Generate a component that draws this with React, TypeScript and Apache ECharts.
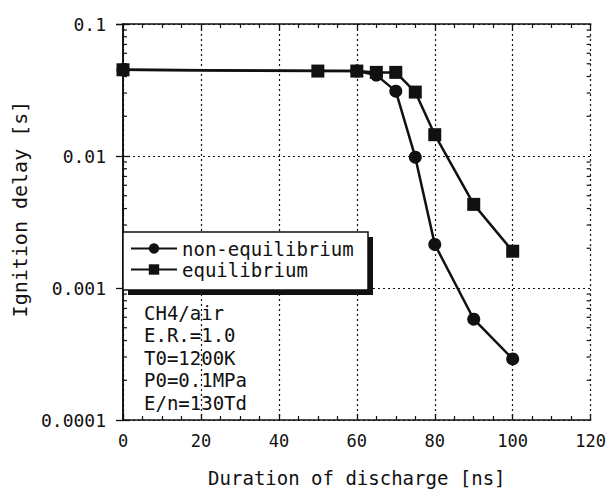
import React, { useEffect, useRef } from "react";
import * as echarts from "echarts";

const xEquilibrium = [0, 50, 60, 65, 70, 75, 80, 90, 100];
const equilibrium = [0.045, 0.044, 0.044, 0.043, 0.043, 0.0305, 0.0145, 0.0043, 0.0019];
const xNonEquilibrium = [0, 60, 65, 70, 75, 80, 90, 100];
const nonEquilibrium = [0.045, 0.044, 0.041, 0.031, 0.0098, 0.00214, 0.00058, 0.00029];
const yTickLabels = ["0.0001", "0.001", "0.01", "0.1"];
const yMinorTicks = [
  2e-4, 3e-4, 4e-4, 5e-4, 6e-4, 7e-4, 8e-4, 9e-4,
  2e-3, 3e-3, 4e-3, 5e-3, 6e-3, 7e-3, 8e-3, 9e-3,
  2e-2, 3e-2, 4e-2, 5e-2, 6e-2, 7e-2, 8e-2, 9e-2,
];
const conditions = ["CH4/air", "E.R.=1.0", "T0=1200K", "P0=0.1MPa", "E/n=130Td"];

const FONT = "DejaVu Sans Mono";
const INK = "#111";

export default function App() {
  const ref = useRef<HTMLDivElement>(null);
  useEffect(() => {
    if (!ref.current) return;
    const chart = echarts.init(ref.current, undefined, { renderer: "svg" });
    const gridLine = { show: true, lineStyle: { color: INK, type: [2, 3], width: 1.2 } };
    const axisLine = { show: true, lineStyle: { color: INK, width: 1.6 } };
    const option: any = {
      animation: false,
      backgroundColor: "#fff",
      grid: { left: 123, right: 17, top: 24, bottom: 69 },
      xAxis: [
        {
          type: "value", min: 0, max: 120, interval: 20,
          axisLine,
          axisTick: { inside: true, length: 6, lineStyle: { color: INK, width: 1.3 } },
          minorTick: { show: true, splitNumber: 4, length: 4, lineStyle: { color: INK, width: 1.2 } },
          splitLine: gridLine,
          axisLabel: { color: INK, fontFamily: FONT, fontSize: 17, margin: 12 },
          name: "Duration of discharge [ns]",
          nameLocation: "middle", nameGap: 48,
          nameTextStyle: { color: INK, fontFamily: FONT, fontSize: 19 },
        },
        {
          type: "value", min: 0, max: 120, interval: 20, position: "top",
          axisLine,
          axisTick: { inside: true, length: 6, lineStyle: { color: INK, width: 1.3 } },
          minorTick: { show: true, splitNumber: 4, length: 4, lineStyle: { color: INK, width: 1.2 } },
          splitLine: { show: false }, axisLabel: { show: false },
        },
      ],
      yAxis: [
        {
          type: "log", logBase: 10, min: 0.0001, max: 0.1,
          axisLine,
          axisTick: { inside: true, length: 7, lineStyle: { color: INK, width: 1.3 } },
          splitLine: gridLine,
          axisLabel: {
            color: INK, fontFamily: FONT, fontSize: 18, margin: 17,
            padding: [0, 0, 8, 0],
            formatter: (v: number) => yTickLabels[Math.round(Math.log10(v)) + 4],
          },
        },
        {
          type: "log", logBase: 10, min: 0.0001, max: 0.1, position: "right",
          axisLine,
          axisTick: { inside: true, length: 7, lineStyle: { color: INK, width: 1.3 } },
          splitLine: { show: false }, axisLabel: { show: false },
        },
      ],
      legend: {
        data: ["non-equilibrium", "equilibrium"],
        orient: "vertical",
        left: 130, top: 239,
        itemWidth: 46, itemHeight: 13, itemGap: 2,
        padding: 0,
        z: 10,
        textStyle: { color: INK, fontFamily: FONT, fontSize: 19 },
      },
      graphic: [
        { type: "rect", z: 8, shape: { x: 128, y: 237, width: 245, height: 58 }, style: { fill: INK } },
        { type: "rect", z: 9, shape: { x: 123, y: 232, width: 245, height: 58 }, style: { fill: "#fff", stroke: INK, lineWidth: 1.5 } },
        ...conditions.map((t, i) => ({
          type: "text", z: 9, left: 144, top: 303 + i * 22.5,
          style: { text: t, fill: INK, font: `19px "${FONT}"` },
        })),
        {
          type: "text", z: 9, x: 20, y: 209, rotation: Math.PI / 2,
          style: {
            text: "Ignition delay [s]", fill: INK, font: `20px "${FONT}"`,
            align: "center", verticalAlign: "middle",
          },
        },
      ],
      series: [
        {
          type: "custom",
          silent: true,
          xAxisIndex: 0, yAxisIndex: 0,
          clip: false,
          data: yMinorTicks.map((v) => [0, v]),
          renderItem: (params: any, api: any) => {
            const p = api.coord([0, api.value(1)]);
            const cs = params.coordSys;
            return {
              type: "group",
              children: [
                { type: "line", shape: { x1: cs.x, y1: p[1], x2: cs.x + 4, y2: p[1] }, style: { stroke: INK, lineWidth: 1.2 } },
                { type: "line", shape: { x1: cs.x + cs.width, y1: p[1], x2: cs.x + cs.width - 4, y2: p[1] }, style: { stroke: INK, lineWidth: 1.2 } },
              ],
            };
          },
        },
        {
          name: "non-equilibrium", type: "line",
          data: xNonEquilibrium.map((x, i) => [x, nonEquilibrium[i]]),
          symbol: "circle", symbolSize: 13, clip: false,
          lineStyle: { color: INK, width: 2.5 },
          itemStyle: { color: INK },
          z: 3,
        },
        {
          name: "equilibrium", type: "line",
          data: xEquilibrium.map((x, i) => [x, equilibrium[i]]),
          symbol: "rect", symbolSize: 13, clip: false,
          lineStyle: { color: INK, width: 2.5 },
          itemStyle: { color: INK },
          z: 4,
        },
      ],
    };
    chart.setOption(option);
    return () => chart.dispose();
  }, []);
  return <div ref={ref} style={{ width: 609, height: 492, position: "absolute", left: 0, top: 0 }} />;
}
